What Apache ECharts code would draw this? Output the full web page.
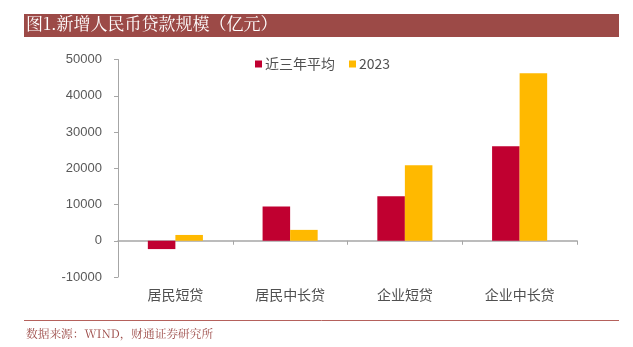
<!DOCTYPE html>
<html><head><meta charset="utf-8">
<script src="https://cdn.jsdelivr.net/npm/echarts@6/dist/echarts.min.js"></script>
<style>html,body{margin:0;padding:0;background:#fff}#c{width:633px;height:347px}</style>
</head><body><div id="c"></div>
<script>
var categories = ['居民短贷', '居民中长贷', '企业短贷', '企业中长贷'];
var avg3 = [-2300, 9450, 12300, 26100];
var y2023 = [1600, 3000, 20850, 46200];
var seriesNames = ['近三年平均', '2023'];
var title = '图1.新增人民币贷款规模（亿元）';
var source = '数据来源：WIND，财通证券研究所';

var serif = '"Noto Serif CJK SC","Noto Sans CJK SC",serif';
var chart = echarts.init(document.getElementById('c'));
chart.setOption({
  animation: false,
  backgroundColor: '#fff',
  grid: {left: 118, right: 56, top: 59.5, bottom: 70, containLabel: false},
  legend: {
    data: seriesNames, left: 250, top: 52, itemWidth: 7, itemHeight: 7, itemGap: 14,
    icon: 'rect',
    textStyle: {color: '#505050', fontSize: 14, fontFamily: '"Noto Sans CJK SC",sans-serif', padding: [0,0,0,-2]}
  },
  xAxis: {
    type: 'category', data: categories,
    axisLine: {onZero: true, lineStyle: {color: '#a6a6a6', width: 1.5}},
    axisTick: {show: true, length: 4, lineStyle: {color: '#a6a6a6'}},
    axisLabel: {interval: 0, color: '#505050', fontSize: 14, fontFamily: '"Noto Sans CJK SC",sans-serif', margin: 11},
  },
  yAxis: {
    type: 'value', min: -10000, max: 50000, interval: 10000,
    axisLine: {show: true, lineStyle: {color: '#a6a6a6', width: 1}},
    axisTick: {show: true, length: 4, inside: false, lineStyle: {color: '#a6a6a6'}},
    splitLine: {show: false},
    axisLabel: {color: '#595959', fontSize: 13, fontFamily: 'Liberation Sans, Arial, sans-serif', margin: 16,
      formatter: function (v) { return String(v); }}
  },
  series: [
    {name: seriesNames[0], type: 'bar', data: avg3, barGap: '0%', barCategoryGap: '52%', itemStyle: {color: '#C00030'}},
    {name: seriesNames[1], type: 'bar', data: y2023, barGap: '0%', barCategoryGap: '52%', itemStyle: {color: '#FFB900'}}
  ],
  graphic: [
    {type: 'rect', shape: {x: 24, y: 14, width: 595, height: 23}, style: {fill: '#9C4A47'}},
    {type: 'text', left: 26, top: 15.5, style: {text: title, fill: '#fff', fontSize: 17, fontFamily: serif}},
    {type: 'line', shape: {x1: 24, y1: 320.5, x2: 619, y2: 320.5}, style: {stroke: '#B5615C', lineWidth: 1}},
    {type: 'text', left: 26, top: 328, style: {text: source, fill: '#9C4A47', fontSize: 11.7, fontFamily: serif}}
  ]
});
</script></body></html>
